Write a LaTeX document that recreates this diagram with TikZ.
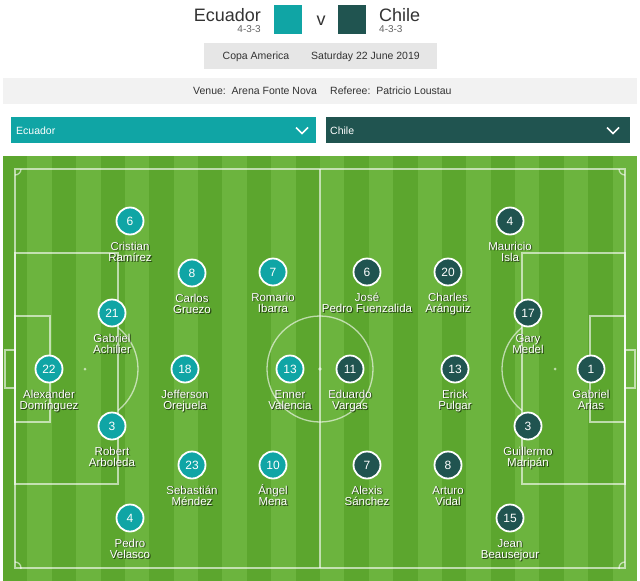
\documentclass[tikz,border=0pt]{standalone}
\usepackage{fontspec}
\setmainfont{Liberation Sans}
\definecolor{teamteal}{RGB}{16,165,165}
\definecolor{teamdark}{RGB}{32,84,80}
\definecolor{grdark}{RGB}{92,166,46}
\definecolor{grlight}{RGB}{108,180,62}
\definecolor{hdr}{RGB}{51,51,51}
\definecolor{formgray}{RGB}{100,100,100}
\definecolor{boxgray}{RGB}{230,230,230}
\definecolor{bandgray}{RGB}{242,242,242}
\newcommand\plr[7]{%
  \node[player,fill=#4] (#1) at (#2,#3) {#5};
  \node[shd2] (#1ta) at (#2+1.3,#3+30.3) {#6};
  \node[shd] (#1sa) at (#2+0.8,#3+29.8) {#6};
  \node[lbl] (#1la) at (#2,#3+29) {#6};
  \node[shd2] (#1tb) at (#2+1.3,#3+41.8) {#7};
  \node[shd] (#1sb) at (#2+0.8,#3+41.3) {#7};
  \node[lbl] (#1lb) at (#2,#3+40.5) {#7};
}
\begin{document}
\begin{tikzpicture}[x=1pt,y=-1pt,
  player/.style={circle,draw=white,line width=1.8pt,minimum size=27pt,inner sep=0pt,text=white,font=\fontsize{12}{12}\selectfont},
  lbl/.style={anchor=base,inner sep=0pt,text=white,font=\fontsize{11.5}{12}\selectfont},
  shd/.style={lbl,text=black,text opacity=0.5},
  shd2/.style={lbl,text=black,text opacity=0.25},
  pline/.style={draw=white,draw opacity=0.6,line width=1.3pt},
  hdrtxt/.style={inner sep=0pt,text=hdr},
  small/.style={inner sep=0pt,text=hdr,font=\fontsize{10.5}{12}\selectfont},
  dd/.style={minimum height=26pt,inner sep=0pt},
  ddtxt/.style={anchor=base west,inner sep=0pt,text=white,font=\fontsize{10.5}{12}\selectfont},
  chev/.style={draw=white,line width=1.6pt}
]
\useasboundingbox (0,0) rectangle (640,581);
\fill[white] (0,0) rectangle (640,581);

% header
\node[hdrtxt,anchor=base east,font=\fontsize{18}{20}\selectfont] (teamA) at (261,21) {Ecuador};
\node[inner sep=0pt,text=formgray,anchor=base east,font=\fontsize{10}{12}\selectfont] (formA) at (261,32) {4-3-3};
\node[fill=teamteal,minimum width=28pt,minimum height=29pt,inner sep=0pt] (sqA) at (288,19.5) {};
\node[hdrtxt,anchor=base,font=\fontsize{18}{20}\selectfont] (vs) at (321,25) {v};
\node[fill=teamdark,minimum width=28pt,minimum height=29pt,inner sep=0pt] (sqB) at (352,19.5) {};
\node[hdrtxt,anchor=base west,font=\fontsize{18}{20}\selectfont] (teamB) at (379,21) {Chile};
\node[inner sep=0pt,text=formgray,anchor=base west,font=\fontsize{10}{12}\selectfont] (formB) at (379,32) {4-3-3};

\node[fill=boxgray,minimum width=233pt,minimum height=26pt,inner sep=0pt] (compbox) at (320,55.5) {};
\node[small,anchor=base] (comp) at (256,59) {Copa America};
\node[small,anchor=base west] (date) at (311,59) {Saturday 22 June 2019};

\fill[bandgray] (3,78) rectangle (637,104);
\node[small,anchor=base west] (venue) at (193,94) {Venue:\ \ Arena Fonte Nova};
\node[small,anchor=base west] (ref) at (330,94) {Referee:\ \ Patricio Loustau};

% dropdowns
\node[dd,fill=teamteal,minimum width=305pt] (ddA) at (163.5,130) {};
\node[ddtxt] (ddAt) at (16,134) {Ecuador};
\draw[chev] (296,127.5) -- (302,133.5) -- (308,127.5);
\node[dd,fill=teamdark,minimum width=304pt] (ddB) at (478,130) {};
\node[ddtxt] (ddBt) at (330,134) {Chile};
\draw[chev] (607,127.5) -- (613,133.5) -- (619,127.5);

% pitch
\fill[grlight] (3,156) rectangle (637,581);
\foreach \i in {0,2,...,24} \fill[grdark] (3+\i*24.385,156) rectangle ++(24.385,425);
\draw[pline] (15,169) rectangle (625,568);
\draw[pline] (320,169) -- (320,568);
\draw[pline] (320,369) circle (53);
\fill[white,opacity=0.6] (320,369) circle (1.8);
% left
\draw[pline] (15,253) rectangle (118,484);
\draw[pline] (15,316) rectangle (50,422);
\draw[pline] (5,350) rectangle (15,388);
\fill[white,opacity=0.6] (85,369) circle (1.5);
\begin{scope}\clip (118,169) rectangle (200,568); \draw[pline] (85,369) circle (53); \end{scope}
% right
\draw[pline] (522,253) rectangle (625,484);
\draw[pline] (590,316) rectangle (625,422);
\draw[pline] (625,350) rectangle (635,388);
\fill[white,opacity=0.6] (555,369) circle (1.5);
\begin{scope}\clip (440,169) rectangle (522,568); \draw[pline] (555,369) circle (53); \end{scope}
% corners
\begin{scope}\clip (15,169) rectangle (625,568);
\foreach \p in {(15,169),(625,169),(15,568),(625,568)} \draw[pline] \p circle (6);
\end{scope}

% Ecuador
\plr{e6}{130}{221}{teamteal}{6}{Cristian}{Ramírez}
\plr{e8}{192}{273}{teamteal}{8}{Carlos}{Gruezo}
\plr{e7}{273}{272}{teamteal}{7}{Romario}{Ibarra}
\plr{e21}{112}{313}{teamteal}{21}{Gabriel}{Achilier}
\plr{e22}{49}{369}{teamteal}{22}{Alexander}{Domínguez}
\plr{e18}{185}{369}{teamteal}{18}{Jefferson}{Orejuela}
\plr{e13}{290}{369}{teamteal}{13}{Enner}{Valencia}
\plr{e3}{112}{426}{teamteal}{3}{Robert}{Arboleda}
\plr{e23}{192}{465}{teamteal}{23}{Sebastián}{Méndez}
\plr{e10}{273}{465}{teamteal}{10}{Ángel}{Mena}
\plr{e4}{130}{518}{teamteal}{4}{Pedro}{Velasco}
% Chile
\plr{c4}{510}{221}{teamdark}{4}{Mauricio}{Isla}
\plr{c6}{367}{272}{teamdark}{6}{José}{Pedro Fuenzalida}
\plr{c20}{448}{272}{teamdark}{20}{Charles}{Aránguiz}
\plr{c17}{528}{313}{teamdark}{17}{Gary}{Medel}
\plr{c11}{350}{369}{teamdark}{11}{Eduardo}{Vargas}
\plr{c13}{455}{369}{teamdark}{13}{Erick}{Pulgar}
\plr{c1}{591}{369}{teamdark}{1}{Gabriel}{Arias}
\plr{c3}{528}{426}{teamdark}{3}{Guillermo}{Maripán}
\plr{c7}{367}{465}{teamdark}{7}{Alexis}{Sánchez}
\plr{c8}{448}{465}{teamdark}{8}{Arturo}{Vidal}
\plr{c15}{510}{518}{teamdark}{15}{Jean}{Beausejour}
\end{tikzpicture}
\end{document}
